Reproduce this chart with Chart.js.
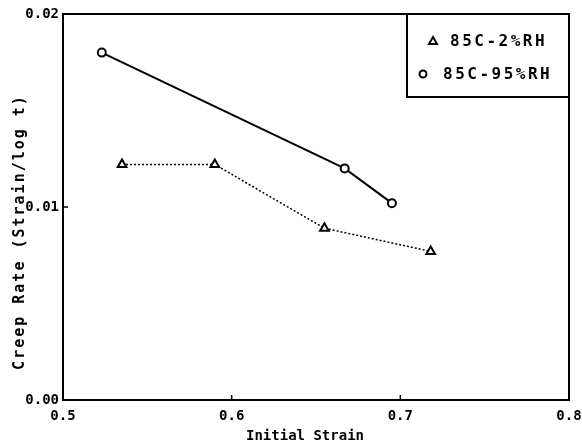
<!DOCTYPE html>
<html>
<head>
<meta charset="utf-8">
<script src="https://cdn.jsdelivr.net/npm/chart.js@4"></script>
<style>
  html, body { margin: 0; padding: 0; background: #fff; }
  #wrap { width: 582px; height: 446px; }
</style>
</head>
<body>
<div id="wrap"><canvas id="creepChart" width="582" height="446"></canvas></div>
<script>
// Data
const strainLow = [0.535, 0.590, 0.655, 0.718];     // 85C-2%RH
const rateLow   = [0.0122, 0.0122, 0.0089, 0.0077];
const strainHigh = [0.523, 0.667, 0.695];            // 85C-95%RH
const rateHigh   = [0.0180, 0.0120, 0.0102];
const seriesLabels = ['85C-2%RH', '85C-95%RH'];
const xTicks = [0.5, 0.6, 0.7, 0.8];
const yTicks = [0.00, 0.01, 0.02];

const FONT = 'DejaVu Sans Mono';

function toPoints(xs, ys) {
    return xs.map((x, i) => ({ x: x, y: ys[i] }));
}

// Frame, inner tick marks, axis titles and the boxed legend
const paperPlot = {
    id: 'paperPlot',
    afterDraw(chart) {
        const ctx = chart.ctx;
        const a = chart.chartArea;
        const xs = chart.scales.x;
        const ys = chart.scales.y;
        ctx.save();
        ctx.strokeStyle = '#000';
        ctx.lineWidth = 2;
        ctx.strokeRect(a.left, a.top, a.right - a.left, a.bottom - a.top);

        // inward ticks
        ctx.lineWidth = 1.5;
        ctx.beginPath();
        xTicks.slice(1, -1).forEach(v => {
            const px = xs.getPixelForValue(v);
            ctx.moveTo(px, a.bottom);
            ctx.lineTo(px, a.bottom - 5);
        });
        yTicks.slice(1, -1).forEach(v => {
            const py = ys.getPixelForValue(v);
            ctx.moveTo(a.left, py);
            ctx.lineTo(a.left + 5, py);
        });
        ctx.stroke();

        // axis titles
        ctx.fillStyle = '#000';
        ctx.font = 'bold 14px "' + FONT + '"';
        ctx.textAlign = 'center';
        ctx.textBaseline = 'middle';
        ctx.fillText('Initial Strain', 305, 436);
        ctx.save();
        ctx.translate(20, 232);
        ctx.rotate(-Math.PI / 2);
        ctx.font = 'bold 15px "' + FONT + '"';
        ctx.letterSpacing = '2px';
        ctx.fillText('Creep Rate (Strain/log t)', 0, 0);
        ctx.restore();

        // legend box
        const boxL = 407, boxB = 97;
        ctx.lineWidth = 2;
        ctx.strokeRect(boxL, a.top, a.right - boxL, boxB - a.top);
        ctx.font = 'bold 16px "' + FONT + '"';
        ctx.textAlign = 'left';
        ctx.letterSpacing = '2.5px';
        const rows = [
            { label: seriesLabels[0], y: 41, mx: 433, tx: 450, style: 'triangle' },
            { label: seriesLabels[1], y: 74, mx: 423, tx: 443, style: 'circle' }
        ];
        rows.forEach(r => {
            ctx.lineWidth = 2;
            ctx.beginPath();
            if (r.style === 'triangle') {
                ctx.moveTo(r.mx, r.y - 4);
                ctx.lineTo(r.mx + 4, r.y + 3);
                ctx.lineTo(r.mx - 4, r.y + 3);
                ctx.closePath();
            } else {
                ctx.arc(r.mx, r.y, 3.5, 0, Math.PI * 2);
            }
            ctx.stroke();
            ctx.fillText(r.label, r.tx, r.y + 1);
        });
        ctx.restore();
    }
};

const ctx = document.getElementById('creepChart').getContext('2d');
new Chart(ctx, {
    type: 'scatter',
    data: {
        datasets: [
            {
                label: seriesLabels[0],
                data: toPoints(strainLow, rateLow),
                showLine: true,
                borderColor: '#000',
                borderWidth: 1.5,
                borderDash: [2, 2],
                pointStyle: 'triangle',
                pointRadius: 5,
                pointBorderWidth: 2,
                pointBorderColor: '#000',
                pointBackgroundColor: '#fff'
            },
            {
                label: seriesLabels[1],
                data: toPoints(strainHigh, rateHigh),
                showLine: true,
                borderColor: '#000',
                borderWidth: 2,
                pointStyle: 'circle',
                pointRadius: 4,
                pointBorderWidth: 2,
                pointBorderColor: '#000',
                pointBackgroundColor: '#fff'
            }
        ]
    },
    options: {
        responsive: false,
        animation: false,
        layout: { padding: { top: 14, right: 13, left: 0, bottom: 0 } },
        plugins: {
            legend: { display: false },
            tooltip: { enabled: false }
        },
        scales: {
            x: {
                type: 'linear',
                min: 0.5,
                max: 0.8,
                afterFit(scale) {
                    scale.height = 46;
                    scale.paddingLeft = 0;
                    scale.paddingRight = 0;
                },
                afterBuildTicks(scale) { scale.ticks = xTicks.map(v => ({ value: v })); },
                grid: { display: false, drawTicks: false },
                border: { display: false },
                ticks: {
                    padding: 8,
                    color: '#000',
                    font: { family: FONT, size: 14, weight: 'bold' },
                    maxRotation: 0,
                    autoSkip: false,
                    callback: v => v.toFixed(1)
                }
            },
            y: {
                type: 'linear',
                min: 0,
                max: 0.02,
                afterFit(scale) {
                    scale.width = 63;
                    scale.paddingTop = 0;
                    scale.paddingBottom = 0;
                },
                afterBuildTicks(scale) { scale.ticks = yTicks.map(v => ({ value: v })); },
                grid: { display: false, drawTicks: false },
                border: { display: false },
                ticks: {
                    padding: 4,
                    color: '#000',
                    font: { family: FONT, size: 14, weight: 'bold' },
                    autoSkip: false,
                    callback: v => v.toFixed(2)
                }
            }
        }
    },
    plugins: [paperPlot]
});
</script>
</body>
</html>
